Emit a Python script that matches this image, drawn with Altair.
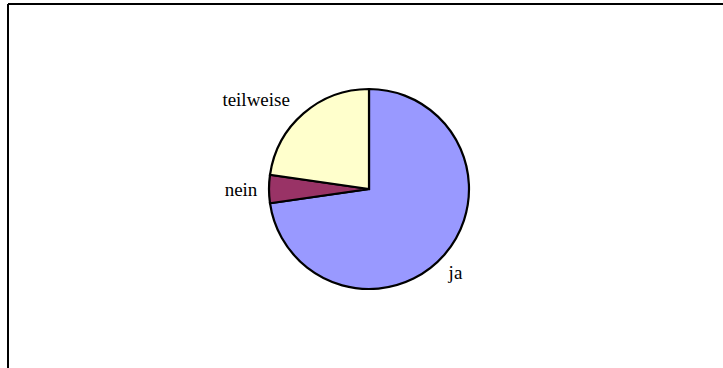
import altair as alt
import pandas as pd

categories = ["ja", "nein", "teilweise"]
values = [16, 1, 5]
colors = ["#9999FF", "#993366", "#FFFFCC"]

df = pd.DataFrame({"cat": categories, "val": values, "ord": list(range(len(categories)))})

W, H = 723, 368
CX, CY, R = 369, 189, 100
FONT = "Liberation Serif, Times New Roman, serif"

pie = alt.Chart(df).mark_arc(outerRadius=R, stroke="black", strokeWidth=2.2).encode(
    theta=alt.Theta("val:Q", stack=True),
    order=alt.Order("ord:O"),
    x=alt.value(CX),
    y=alt.value(CY),
    color=alt.Color("cat:N", scale=alt.Scale(domain=categories, range=colors), legend=None),
)

label_base = (
    alt.Chart(df)
    .transform_window(cum="sum(val)", sort=[alt.SortField("ord")], frame=[None, 0])
    .transform_calculate(mid="datum.cum - datum.val / 2")
)

offsets = {"ja": (-8, 2), "nein": (-3, 1), "teilweise": (-31, 5)}
labels = []
for c in categories:
    dx, dy = offsets[c]
    labels.append(
        label_base.transform_filter(alt.datum.cat == c)
        .mark_text(font=FONT, fontSize=19, color="black", dx=dx, dy=dy,
                   align="center", baseline="middle")
        .encode(theta=alt.Theta("mid:Q", stack=None),
                x=alt.value(CX), y=alt.value(CY), radius=alt.value(125), text="cat:N")
    )

frame_top = alt.Chart(df).mark_rule(color="black", strokeWidth=2).encode(
    x=alt.value(8), x2=alt.value(W), y=alt.value(4)
)
frame_left = alt.Chart(df).mark_rule(color="black", strokeWidth=2).encode(
    x=alt.value(8), y=alt.value(4), y2=alt.value(H)
)

chart = alt.layer(frame_top, frame_left, pie, *labels).properties(
    width=W, height=H, autosize=alt.AutoSizeParams(type="none"), padding=0,
    background="white",
).configure_view(stroke=None)

chart.save("out.html", embed_options={"renderer": "svg", "actions": False})
